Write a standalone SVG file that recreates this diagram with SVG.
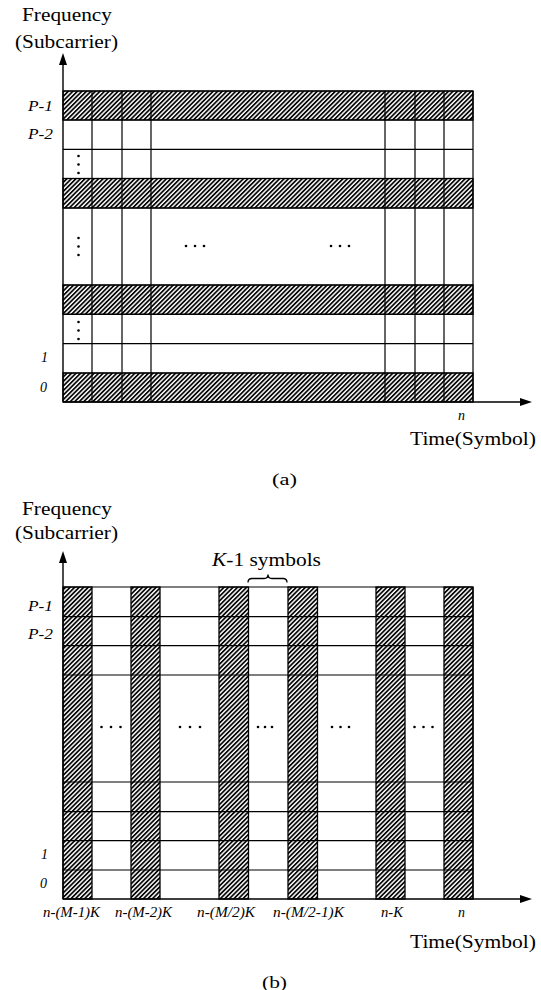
<svg xmlns="http://www.w3.org/2000/svg" width="541" height="990" viewBox="0 0 541 990">
<style>
.t{font-family:"Liberation Serif","Times New Roman",serif;fill:#000}
.lab{font-size:19px}
.it{font-size:14px;font-style:italic}
.grid{stroke:#000;stroke-width:1.2;fill:none}
.axis{stroke:#000;stroke-width:1.4;fill:none}
.hat{fill:url(#hatch);stroke:#000;stroke-width:1.3}
.dot{fill:#000}
</style>
<defs>
<pattern id="hatch" patternUnits="userSpaceOnUse" width="3.2" height="10" patternTransform="rotate(45)">
<line x1="0.9" y1="0" x2="0.9" y2="10" stroke="#000" stroke-width="1.7"/>
</pattern>
</defs>

<g id="diagram-a">
<g id="a-hatched-rows">
<rect class="hat" x="63" y="91" width="410" height="29"/>
<rect class="hat" x="63" y="178.5" width="410" height="29.5"/>
<rect class="hat" x="63" y="285" width="410" height="29.3"/>
<rect class="hat" x="63" y="373" width="410" height="29"/>
</g>
<g id="a-grid" class="grid">
<path d="M63 91H473M63 120H473M63 149.3H473M63 178.5H473M63 208H473M63 285H473M63 314.3H473M63 343.7H473M63 373H473"/>
<path d="M92 91V402M122 91V402M151 91V402M385 91V402M415 91V402M444 91V402M473 91V402"/>
</g>
<g id="a-axes">
<path class="axis" d="M63 402V62M63 402H522"/>
<polygon points="63,53 59,65 67,65"/>
<polygon points="532,402 520,398 520,406"/>
</g>
<g id="a-dots" class="dot">
<circle cx="78.5" cy="156" r="1.3"/><circle cx="78.5" cy="164.5" r="1.3"/><circle cx="78.5" cy="173" r="1.3"/>
<circle cx="78.5" cy="238" r="1.3"/><circle cx="78.5" cy="246.5" r="1.3"/><circle cx="78.5" cy="255" r="1.3"/>
<circle cx="78.5" cy="322" r="1.3"/><circle cx="78.5" cy="330.5" r="1.3"/><circle cx="78.5" cy="339" r="1.3"/>
<circle cx="186" cy="246" r="1.3"/><circle cx="195" cy="246" r="1.3"/><circle cx="204" cy="246" r="1.3"/>
<circle cx="331" cy="246" r="1.3"/><circle cx="340" cy="246" r="1.3"/><circle cx="349" cy="246" r="1.3"/>
</g>
<g id="a-labels">
<text class="t lab" x="22" y="20.5" textLength="90" lengthAdjust="spacingAndGlyphs">Frequency</text>
<text class="t lab" x="15" y="48" textLength="103" lengthAdjust="spacingAndGlyphs">(Subcarrier)</text>
<text class="t it" x="28" y="111" textLength="25" lengthAdjust="spacingAndGlyphs">P-1</text>
<text class="t it" x="28" y="139" textLength="25" lengthAdjust="spacingAndGlyphs">P-2</text>
<text class="t it" x="41" y="362">1</text>
<text class="t it" x="40" y="391.5">0</text>
<text class="t it" x="458" y="420">n</text>
<text class="t lab" x="410" y="445" textLength="126" lengthAdjust="spacingAndGlyphs">Time(Symbol)</text>
<text class="t" x="272" y="485" font-size="16" textLength="25" lengthAdjust="spacingAndGlyphs">(a)</text>
</g>
</g>

<g id="diagram-b">
<g id="b-hatched-cols">
<rect class="hat" x="63" y="587" width="29" height="312"/>
<rect class="hat" x="131" y="587" width="29" height="312"/>
<rect class="hat" x="219" y="587" width="29.5" height="312"/>
<rect class="hat" x="288" y="587" width="29.5" height="312"/>
<rect class="hat" x="376" y="587" width="29" height="312"/>
<rect class="hat" x="444" y="587" width="29" height="312"/>
</g>
<g id="b-grid" class="grid">
<path d="M63 587H473M63 616.7H473M63 645.7H473M63 675H473M63 782H473M63 811.7H473M63 840.7H473M63 870H473"/>
<path d="M473 587V899"/>
</g>
<g id="b-axes">
<path class="axis" d="M63 899V559M63 899H522"/>
<polygon points="63,551 59,563 67,563"/>
<polygon points="532,899 520,895 520,903"/>
</g>
<g id="b-dots" class="dot">
<circle cx="101.5" cy="727" r="1.3"/><circle cx="111" cy="727" r="1.3"/><circle cx="120.5" cy="727" r="1.3"/>
<circle cx="180" cy="727" r="1.3"/><circle cx="190" cy="727" r="1.3"/><circle cx="200" cy="727" r="1.3"/>
<circle cx="258" cy="727" r="1.3"/><circle cx="265" cy="727" r="1.3"/><circle cx="272" cy="727" r="1.3"/>
<circle cx="332" cy="727" r="1.3"/><circle cx="340.5" cy="727" r="1.3"/><circle cx="349" cy="727" r="1.3"/>
<circle cx="414.5" cy="727" r="1.3"/><circle cx="423.5" cy="727" r="1.3"/><circle cx="432.5" cy="727" r="1.3"/>
</g>
<g id="b-brace">
<path d="M248 582.5Q248 578.5 252 578.5H264Q268 578.5 268 574.5Q268 578.5 272 578.5H283Q287 578.5 287 582.5" fill="none" stroke="#000" stroke-width="1.3"/>
</g>
<g id="b-labels">
<text class="t lab" x="22" y="515" textLength="90" lengthAdjust="spacingAndGlyphs">Frequency</text>
<text class="t lab" x="15" y="539" textLength="103" lengthAdjust="spacingAndGlyphs">(Subcarrier)</text>
<text class="t lab" x="212" y="566" textLength="109" lengthAdjust="spacingAndGlyphs"><tspan font-style="italic">K</tspan>-1 symbols</text>
<text class="t it" x="28" y="611" textLength="25" lengthAdjust="spacingAndGlyphs">P-1</text>
<text class="t it" x="28" y="639" textLength="25" lengthAdjust="spacingAndGlyphs">P-2</text>
<text class="t it" x="41" y="859">1</text>
<text class="t it" x="40" y="888">0</text>
<text class="t it" x="43" y="917" textLength="57" lengthAdjust="spacingAndGlyphs">n-(M-1)K</text>
<text class="t it" x="115" y="917" textLength="57" lengthAdjust="spacingAndGlyphs">n-(M-2)K</text>
<text class="t it" x="197" y="917" textLength="58" lengthAdjust="spacingAndGlyphs">n-(M/2)K</text>
<text class="t it" x="273" y="917" textLength="71" lengthAdjust="spacingAndGlyphs">n-(M/2-1)K</text>
<text class="t it" x="381" y="917" textLength="22" lengthAdjust="spacingAndGlyphs">n-K</text>
<text class="t it" x="458" y="917">n</text>
<text class="t lab" x="410" y="948" textLength="126" lengthAdjust="spacingAndGlyphs">Time(Symbol)</text>
<text class="t" x="262" y="988" font-size="16" textLength="25" lengthAdjust="spacingAndGlyphs">(b)</text>
</g>
</g>
</svg>
